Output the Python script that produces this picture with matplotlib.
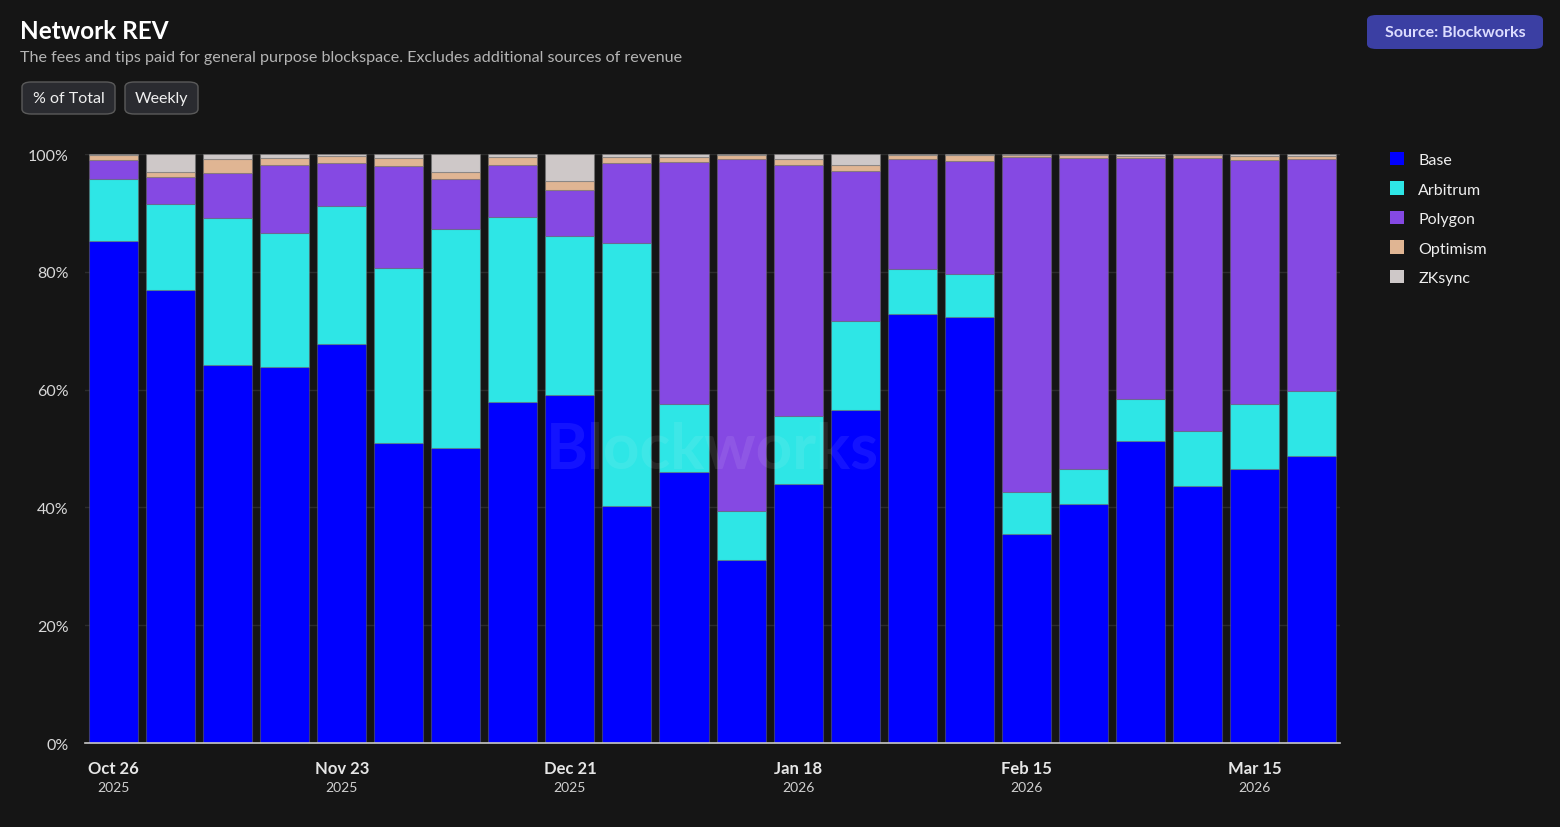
import matplotlib
matplotlib.use("Agg")
import matplotlib.pyplot as plt
from matplotlib.patches import FancyBboxPatch
import numpy as np

plt.rcParams['font.family'] = ['Lato', 'DejaVu Sans']

# weekly share of network revenue, % of total
weeks = ["Oct 26", "Nov 2", "Nov 9", "Nov 16", "Nov 23", "Nov 30", "Dec 7", "Dec 14",
         "Dec 21", "Dec 28", "Jan 4", "Jan 11", "Jan 18", "Jan 25", "Feb 1", "Feb 8",
         "Feb 15", "Feb 22", "Mar 1", "Mar 8", "Mar 15", "Mar 22"]
years = ["2025"] * 10 + ["2026"] * 12

base = [85.2, 76.9, 64.2, 63.8, 67.7, 50.9, 50.1, 57.9, 59.1, 40.2, 46.0,
        31.1, 44.0, 56.5, 72.8, 72.3, 35.5, 40.6, 51.3, 43.6, 46.5, 48.7]
arbitrum = [10.6, 14.6, 24.9, 22.8, 23.5, 29.7, 37.2, 31.4, 27.0, 44.7, 11.6,
            8.3, 11.5, 15.1, 7.7, 7.3, 7.1, 5.9, 7.1, 9.4, 11.1, 11.1]
polygon = [3.2, 4.6, 7.7, 11.6, 7.3, 17.4, 8.5, 8.8, 7.8, 13.6, 41.1,
           59.7, 42.7, 25.5, 18.6, 19.2, 56.9, 52.8, 40.9, 46.3, 41.4, 39.3]
optimism = [0.8, 0.9, 2.3, 1.2, 1.2, 1.4, 1.2, 1.4, 1.5, 1.0, 0.8,
            0.7, 0.9, 1.0, 0.7, 1.1, 0.4, 0.6, 0.4, 0.6, 0.6, 0.5]
zksync = [0.2, 3.0, 0.9, 0.6, 0.3, 0.6, 3.0, 0.5, 4.6, 0.5, 0.5,
          0.2, 0.9, 1.9, 0.2, 0.1, 0.1, 0.1, 0.3, 0.1, 0.4, 0.4]

series = [
    ("Base", base, "#0000ff"),
    ("Arbitrum", arbitrum, "#2ee6e6"),
    ("Polygon", polygon, "#8549e3"),
    ("Optimism", optimism, "#e0b593"),
    ("ZKsync", zksync, "#cec8c8"),
]

bg = "#151515"
fig = plt.figure(figsize=(15.6, 8.28), dpi=100, facecolor=bg)
ax = fig.add_axes([0.0545, 0.1014, 0.8045, 0.7114], facecolor=bg)

x = np.arange(len(weeks))
bottom = np.zeros(len(weeks))
for name, vals, col in series:
    vals = np.array(vals)
    ax.bar(x, vals, bottom=bottom, width=0.86, color=col, edgecolor=(0.45, 0.45, 0.45, 0.45),
           linewidth=0.8, label=name, zorder=3)
    bottom += vals

ax.set_xlim(-0.5, 21.5)
ax.set_ylim(0, 100)
ax.set_yticks(range(0, 101, 20))
ax.set_yticklabels([f"{v}%" for v in range(0, 101, 20)], color="#d8d8d8", fontsize=11.5)
ax.yaxis.grid(True, color="#2c2c2c", linewidth=1, zorder=0)
ax.tick_params(axis="y", length=0, pad=12)
ax.tick_params(axis="x", length=0)
for s in ["top", "right", "left"]:
    ax.spines[s].set_visible(False)
ax.spines["bottom"].set_color("#c8c8c8")
ax.spines["bottom"].set_linewidth(1.2)
ax.spines["bottom"].set_zorder(4)
ax.set_xticks([])

# x labels every 4 weeks
for i in range(0, len(weeks), 4):
    ax.text(i, -4.3, weeks[i], ha="center", va="center", color="#e6e6e6", fontsize=12,
            fontweight="bold")
    ax.text(i, -7.4, years[i], ha="center", va="center", color="#d0d0d0", fontsize=10)

# watermark
ax.text(10.5, 50, "Blockworks", ha="center", va="center", fontsize=46, fontweight="bold",
        color="white", alpha=0.08, zorder=5)

# legend
leg = ax.legend(loc="upper left", bbox_to_anchor=(1.028, 1.028), frameon=False,
                fontsize=11.5, labelcolor="#eeeeee", handlelength=0.9, handleheight=0.9,
                labelspacing=0.9, handletextpad=0.9)
for h in leg.legend_handles:
    h.set_edgecolor("none")

# header
fig.text(0.0125, 0.962, "Network REV", color="white", fontsize=17.5, fontweight="bold",
         va="center")
fig.text(0.0125, 0.930, "The fees and tips paid for general purpose blockspace. Excludes additional sources of revenue",
         color="#b4b4b4", fontsize=11.6, va="center")

def button(x0, x1, label):
    y0, y1 = 828 - 115, 828 - 83
    p = FancyBboxPatch((x0 / 1560, y0 / 828), (x1 - x0) / 1560, (y1 - y0) / 828,
                       boxstyle="round,pad=0,rounding_size=0.006", transform=fig.transFigure,
                       facecolor="#2a2b30", edgecolor="#5a5a5a", linewidth=1)
    fig.patches.append(p)
    fig.text((x0 + x1) / 2 / 1560, (y0 + y1) / 2 / 828, label, ha="center", va="center",
             color="#f0f0f0", fontsize=11.5)

button(22, 115, "% of Total")
button(125, 198, "Weekly")

src = FancyBboxPatch((1367 / 1560, (828 - 50) / 828), 176 / 1560, 34 / 828,
                     boxstyle="round,pad=0,rounding_size=0.006", transform=fig.transFigure,
                     facecolor="#3b3fa3", edgecolor="none")
fig.patches.append(src)
fig.text(1455 / 1560, (828 - 33) / 828, "Source: Blockworks", ha="center", va="center",
         color="#dcdcff", fontsize=11.5, fontweight="bold")

fig.savefig("out.png", dpi=100, facecolor=bg)
